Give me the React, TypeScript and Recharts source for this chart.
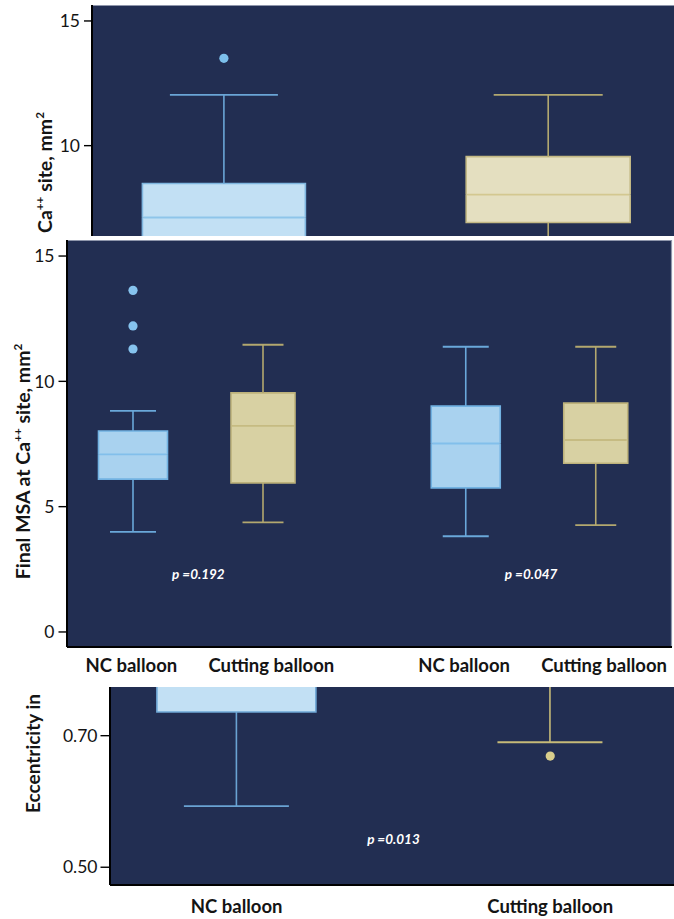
import React from 'react';
import { ComposedChart, Bar, Scatter, XAxis, YAxis, CartesianGrid, ReferenceDot, ReferenceArea } from 'recharts';

const FONT = 'Lato, "Noto Sans", "DejaVu Sans", sans-serif';
const NAVY = '#222e52';
const INK = '#141414';
const BORDER = '#8f96ab';

// ---------------- Panel A (top crop) ----------------
const aCategories = ['NC balloon', 'Cutting balloon'];
const aMin = [3.9, 4.3];
const aQ1 = [6.0, 6.92];
const aMedian = [7.12, 8.04];
const aQ3 = [8.48, 9.56];
const aMax = [12.04, 12.04];
const aHighOutliers: number[][] = [[13.5], []];
const aTicks = [10, 15];
const aTitle = 'Ca++ site, mm2';

// ---------------- Panel B (middle) ----------------
const bGroups = ['Ca++ arc ≤270°', 'Ca++ arc >270°'];
const bSeries = ['NC balloon', 'Cutting balloon'];
const bNcMin = [3.99, 3.82];
const bNcQ1 = [6.1, 5.75];
const bNcMedian = [7.09, 7.52];
const bNcQ3 = [8.02, 9.01];
const bNcMax = [8.82, 11.38];
const bNcHighOutliers: number[][] = [[13.63, 12.21, 11.29], []];
const bCbMin = [4.37, 4.26];
const bCbQ1 = [5.95, 6.73];
const bCbMedian = [8.22, 7.66];
const bCbQ3 = [9.54, 9.13];
const bCbMax = [11.46, 11.38];
const bPValues = ['p =0.192', 'p =0.047'];
const bTicks = [0, 5, 10, 15];
const bTitle = 'Final MSA at Ca++ site, mm2';

// ---------------- Panel C (bottom crop) ----------------
const cCategories = ['NC balloon', 'Cutting balloon'];
const cMin = [0.593, 0.69];
const cQ1 = [0.736, 0.8];
const cMedian = [0.8, 0.84];
const cQ3 = [0.86, 0.88];
const cMax = [0.95, 0.96];
const cLowOutliers: (number | null)[] = [null, 0.669];
const cPValue = 'p =0.013';
const cTicks = [0.5, 0.7];
const cTitle = 'Eccentricity in';

function stats(prefix: string, min: number, q1: number, med: number, q3: number, max: number, high: number[] = []) {
  return {
    [prefix + 'Max']: max,
    [prefix + 'High']: high,
    [prefix + 'S0']: min,
    [prefix + 'S1']: q1 - min,
    [prefix + 'S2']: med - q1,
    [prefix + 'S3']: q3 - med,
    [prefix + 'S4']: max - q3,
  };
}

const aRows = aCategories.map((name, i) => ({ name, ...stats('a', aMin[i], aQ1[i], aMedian[i], aQ3[i], aMax[i], aHighOutliers[i]) }));
const bRows = bGroups.map((group, i) => ({
  group,
  ...stats('nc', bNcMin[i], bNcQ1[i], bNcMedian[i], bNcQ3[i], bNcMax[i], bNcHighOutliers[i]),
  ...stats('cb', bCbMin[i], bCbQ1[i], bCbMedian[i], bCbQ3[i], bCbMax[i], []),
}));
const cRows = cCategories.map((name, i) => ({ name, cOut: cLowOutliers[i], ...stats('c', cMin[i], cQ1[i], cMedian[i], cQ3[i], cMax[i], []) }));

type BoxStyle = { fill: string; stroke: string; median: string; whisker: string; dot: string; boxW: number; capW: number };

const aStyles: BoxStyle[] = [
  { fill: '#c2e0f4', stroke: '#7fb6df', median: '#8ec5ea', whisker: '#6aa5d6', dot: '#7cbfeb', boxW: 163, capW: 108 },
  { fill: '#e4dfc0', stroke: '#c3b985', median: '#d3c890', whisker: '#b2a870', dot: '#d6cb8b', boxW: 164, capW: 109 },
];
const bNcStyle: BoxStyle = { fill: '#a9d2ef', stroke: '#72b2e2', median: '#82bfeb', whisker: '#6aa8da', dot: '#86c3ee', boxW: 69, capW: 46 };
const bCbStyle: BoxStyle = { fill: '#d8d1a3', stroke: '#bdb27b', median: '#c6bb82', whisker: '#b3a86f', dot: '#d8cd8c', boxW: 64, capW: 41 };
const cStyles: BoxStyle[] = [
  { fill: '#c2e0f4', stroke: '#6fa8d6', median: '#8ec5ea', whisker: '#6aa3d3', dot: '#7cbfeb', boxW: 159, capW: 105 },
  { fill: '#e4dfc0', stroke: '#c3b985', median: '#d3c890', whisker: '#c6ba78', dot: '#d9ce8c', boxW: 159, capW: 105 },
];

const SW = 1.6;

function boxBars(prefix: string, styleOf: (i: number) => BoxStyle) {
  const P = (k: string) => prefix + k;
  const empty = () => <g />;
  const lowWhisker = (p: any) => {
    const { x, width, y, height } = p;
    if (!(height > 0.5)) return <g />;
    const st = styleOf(p.index ?? 0);
    const cx = x + width / 2;
    const bottom = y + height;
    return (
      <g>
        <line x1={cx} x2={cx} y1={y} y2={bottom} stroke={st.whisker} strokeWidth={SW} />
        <line x1={cx - st.capW / 2} x2={cx + st.capW / 2} y1={bottom} y2={bottom} stroke={st.whisker} strokeWidth={1.8} />
      </g>
    );
  };
  const lowBox = (p: any) => {
    const { x, width, y, height } = p;
    if (!(height > 0.5)) return <g />;
    const st = styleOf(p.index ?? 0);
    const cx = x + width / 2;
    const l = cx - st.boxW / 2;
    const r = cx + st.boxW / 2;
    const b = y + height;
    return (
      <g>
        <rect x={l} y={y} width={st.boxW} height={height} fill={st.fill} />
        <path d={`M${l},${y}V${b}H${r}V${y}`} fill="none" stroke={st.stroke} strokeWidth={SW} />
      </g>
    );
  };
  const highBox = (p: any) => {
    const { x, width, y, height } = p;
    if (!(height > 0.5)) return <g />;
    const st = styleOf(p.index ?? 0);
    const cx = x + width / 2;
    const l = cx - st.boxW / 2;
    const r = cx + st.boxW / 2;
    const b = y + height;
    return (
      <g>
        <rect x={l} y={y} width={st.boxW} height={height} fill={st.fill} />
        <path d={`M${l},${b}V${y}H${r}V${b}`} fill="none" stroke={st.stroke} strokeWidth={SW} />
        <line x1={l + 1} x2={r - 1} y1={b} y2={b} stroke={st.median} strokeWidth={1.8} />
      </g>
    );
  };
  const highWhisker = (p: any) => {
    const { x, width, y, height, payload } = p;
    if (!(height > 0.5)) return <g />;
    const st = styleOf(p.index ?? 0);
    const cx = x + width / 2;
    const max = payload[P('Max')];
    const ppu = height / payload[P('S4')];
    const outs: number[] = payload[P('High')] || [];
    return (
      <g>
        <line x1={cx} x2={cx} y1={y} y2={y + height} stroke={st.whisker} strokeWidth={SW} />
        <line x1={cx - st.capW / 2} x2={cx + st.capW / 2} y1={y} y2={y} stroke={st.whisker} strokeWidth={1.8} />
        {outs.map((o, k) => (
          <circle key={k} cx={cx} cy={y - (o - max) * ppu} r={4.6} fill={st.dot} />
        ))}
      </g>
    );
  };
  const shapes = [empty, lowWhisker, lowBox, highBox, highWhisker];
  return shapes.map((shape, i) => (
    <Bar key={P('S' + i)} dataKey={P('S' + i)} stackId={prefix} shape={shape} fill="none" isAnimationActive={false} />
  ));
}

function supSpans(text: string, size: number) {
  const parts = text.split(/(\+\+|(?<=mm)2)/);
  const out: React.ReactNode[] = [];
  let raised = false;
  const shift = size * 0.4;
  parts.forEach((part, i) => {
    if (!part) return;
    const sup = i % 2 === 1;
    let dy: number | undefined;
    if (sup && !raised) {
      dy = -shift;
      raised = true;
    } else if (!sup && raised) {
      dy = shift;
      raised = false;
    }
    out.push(
      <tspan key={i} dy={dy} fontSize={sup ? size * 0.6 : size}>
        {part}
      </tspan>
    );
  });
  return out;
}

function AxisTitle(props: any) {
  const { viewBox, fromAxis, ty, anchor, text, size } = props;
  const vb = viewBox || { x: 0, y: 0, width: 0, height: 0 };
  const tx = vb.x + vb.width - fromAxis;
  return (
    <text x={tx} y={ty} transform={`rotate(-90 ${tx} ${ty})`} textAnchor={anchor} fill={INK} fontFamily={FONT} fontWeight={700} fontSize={size}>
      {supSpans(text, size)}
    </text>
  );
}

function SingleTick(props: any) {
  const { x, y, payload, dy } = props;
  return (
    <text x={x} y={y + dy} textAnchor="middle" fill={INK} fontFamily={FONT} fontWeight={700} fontSize={18.5}>
      {payload.value}
    </text>
  );
}

function PairTick(props: any) {
  const { x, y } = props;
  return (
    <g>
      <text x={x - 67} y={y + 24.5} textAnchor="middle" fill={INK} fontFamily={FONT} fontWeight={700} fontSize={18.5}>
        {bSeries[0]}
      </text>
      <text x={x + 73} y={y + 24.5} textAnchor="middle" fill={INK} fontFamily={FONT} fontWeight={700} fontSize={18.5}>
        {bSeries[1]}
      </text>
    </g>
  );
}

function GroupTick(props: any) {
  const { x, y, payload } = props;
  return (
    <text x={x} y={y + 19.3} textAnchor="middle" fill="#ffffff" fontFamily={FONT} fontWeight={700} fontSize={18.5}>
      {supSpans(String(payload.value), 18.5)}
    </text>
  );
}

function OutlierDot(props: any) {
  const { cx, cy, payload } = props;
  if (payload == null || payload.cOut == null || !isFinite(cx) || !isFinite(cy)) return <g />;
  return <circle cx={cx} cy={cy} r={4.6} fill={cStyles[1].dot} />;
}

const yTick = { fill: INK, fontSize: 17.5, fontFamily: FONT };
const axisLine = { stroke: '#000', strokeWidth: 2 };
const tickLine = { stroke: '#000', strokeWidth: 1.4 };
const pLabel = { position: 'center' as const, fill: '#ffffff', fontSize: 13.5, fontWeight: 700, fontStyle: 'italic', fontFamily: FONT };
const P_LABEL_Y_B = 2.32;

export default function App() {
  return (
    <div style={{ position: 'absolute', left: 0, top: 0, width: 674, height: 919, background: '#ffffff', overflow: 'hidden' }}>
      {/* Top panel */}
      <div style={{ position: 'absolute', left: 0, top: 0, width: 674, height: 236, overflow: 'hidden' }}>
        <ComposedChart width={710} height={450} data={aRows} margin={{ top: 5, right: 0, bottom: 0, left: 0 }} barSize={163} barGap={0}>
          <CartesianGrid
            fill={NAVY}
            stroke={BORDER}
            strokeWidth={1}
            vertical={false}
            horizontalCoordinatesGenerator={({ offset }: any) => [offset.top + 0.5]}
          />
          <XAxis dataKey="name" height={40} padding={{ left: -30.6, right: 0 }} axisLine={axisLine} tickLine={false} tick={false} interval={0} />
          <YAxis
            width={92}
            domain={[-0.6, 15.64]}
            ticks={aTicks}
            allowDataOverflow
            axisLine={axisLine}
            tickLine={tickLine}
            tickSize={8}
            tickMargin={4}
            tick={yTick}
            label={<AxisTitle fromAxis={40} ty={112} anchor="end" text={aTitle} size={19.5} />}
          />
          {boxBars('a', (i) => aStyles[i])}
        </ComposedChart>
      </div>

      {/* Middle panel */}
      <div style={{ position: 'absolute', left: 0, top: 236, width: 674, height: 450, overflow: 'hidden' }}>
        <ComposedChart width={674} height={450} data={bRows} margin={{ top: 4, right: 2, bottom: 0, left: 0 }} barSize={130} barGap={0}>
          <CartesianGrid
            fill={NAVY}
            stroke={BORDER}
            strokeWidth={1.2}
            horizontalCoordinatesGenerator={({ offset }: any) => [offset.top + 0.5]}
            verticalCoordinatesGenerator={({ offset }: any) => [offset.left + offset.width - 0.5]}
          />
          <XAxis dataKey="group" height={39} padding={{ left: -35, right: -25.5 }} axisLine={axisLine} tickLine={false} tickSize={0} tickMargin={0} interval={0} tick={<PairTick />} />
          <XAxis xAxisId="top" orientation="top" dataKey="group" height={0} padding={{ left: -35, right: -25.5 }} axisLine={false} tickLine={false} tickSize={0} tickMargin={0} interval={0} tick={<GroupTick />} />
          <YAxis
            width={67}
            domain={[-0.6, 15.64]}
            ticks={bTicks}
            allowDataOverflow
            axisLine={axisLine}
            tickLine={tickLine}
            tickSize={8.5}
            tickMargin={4}
            tick={yTick}
            label={<AxisTitle fromAxis={37} ty={225.5} anchor="middle" text={bTitle} size={19.5} />}
          />
          {boxBars('nc', () => bNcStyle)}
          {boxBars('cb', () => bCbStyle)}
          {bGroups.map((g, i) => (
            <ReferenceDot key={g} x={g} y={P_LABEL_Y_B} r={0} fill="none" stroke="none" ifOverflow="visible" label={{ value: bPValues[i], ...pLabel }} />
          ))}
        </ComposedChart>
      </div>

      {/* Bottom panel */}
      <div style={{ position: 'absolute', left: 0, top: 687, width: 674, height: 232, overflow: 'hidden' }}>
        <ComposedChart width={707} height={232} data={cRows} margin={{ top: 0, right: 0, bottom: 0, left: 0 }} barSize={159} barGap={0}>
          <CartesianGrid fill={NAVY} horizontal={false} vertical={false} />
          <XAxis dataKey="name" height={34} padding={{ left: -30.1, right: 0 }} axisLine={axisLine} tickLine={false} tickSize={0} tickMargin={0} interval={0} tick={<SingleTick dy={27.5} />} />
          <YAxis
            width={110}
            domain={[0.473, 0.774]}
            ticks={cTicks}
            tickFormatter={(v: number) => v.toFixed(2)}
            allowDataOverflow
            axisLine={axisLine}
            tickLine={tickLine}
            tickSize={9.5}
            tickMargin={3}
            tick={yTick}
            label={<AxisTitle fromAxis={70} ty={126} anchor="start" text={cTitle} size={19} />}
          />
          <ReferenceArea x1={cCategories[0]} x2={cCategories[1]} y1={0.53} y2={0.555} fill="none" stroke="none" ifOverflow="visible" label={{ value: cPValue, ...pLabel }} />
          {boxBars('c', (i) => cStyles[i])}
          <Scatter dataKey="cOut" shape={<OutlierDot />} isAnimationActive={false} />
        </ComposedChart>
      </div>
    </div>
  );
}
